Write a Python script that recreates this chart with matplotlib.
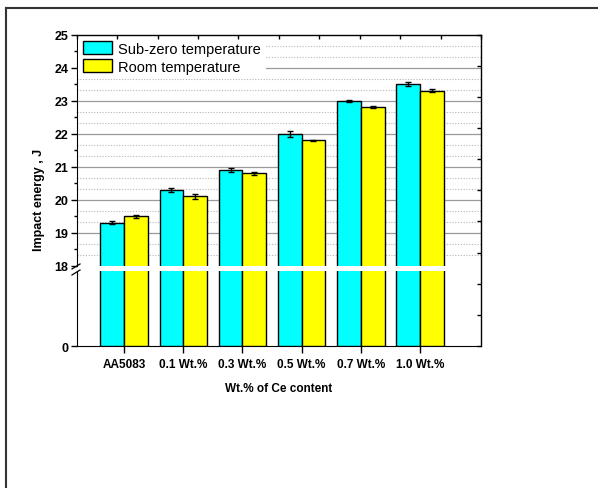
import numpy as np
import matplotlib
matplotlib.use('Agg')
import matplotlib.pyplot as plt
from matplotlib.lines import Line2D
from matplotlib.ticker import MultipleLocator

plt.rcParams['font.family'] = ['Liberation Sans', 'DejaVu Sans']

categories = ['AA5083', '0.1 Wt.%', '0.3 Wt.%', '0.5 Wt.%', '0.7 Wt.%', '1.0 Wt.%']
sub_zero = [19.3, 20.3, 20.9, 22.0, 23.0, 23.5]
sub_zero_err = [0.05, 0.06, 0.07, 0.09, 0.03, 0.06]
room = [19.5, 20.1, 20.8, 21.8, 22.8, 23.3]
room_err = [0.04, 0.08, 0.04, 0.02, 0.03, 0.04]

W, H = 598, 489
fig = plt.figure(figsize=(W/100, H/100), dpi=100)

# pixel layout of the broken axis
x0, x1 = 76.7, 481
top_y0, top_y1 = 35.7, 266.7
low_y0, low_y1 = 271.7, 347

def box(ya, yb):
    return [x0/W, 1-yb/H, (x1-x0)/W, (yb-ya)/H]

ax_top = fig.add_axes(box(top_y0, top_y1))
ax_low = fig.add_axes(box(low_y0, low_y1))
ax_frm = fig.add_axes(box(top_y0, low_y1))

x = np.arange(len(categories))
bw = 0.4
handles = []
for ax in (ax_top, ax_low):
    b1 = ax.bar(x-bw/2, sub_zero, bw, color='#00FFFF', edgecolor='black', linewidth=1, zorder=3)
    b2 = ax.bar(x+bw/2, room, bw, color='#FFFF00', edgecolor='black', linewidth=1, zorder=3)
    handles.append((b1, b2))
    ax.set_xlim(-0.8, 6.03)
    ax.spines['right'].set_visible(False)
    ax.set_axisbelow(True)

ax_top.errorbar(x-bw/2, sub_zero, yerr=sub_zero_err, fmt='none', ecolor='black',
                elinewidth=1, capsize=2.5, capthick=1, zorder=4)
ax_top.errorbar(x+bw/2, room, yerr=room_err, fmt='none', ecolor='black',
                elinewidth=1, capsize=2.5, capthick=1, zorder=4)

# upper part
ax_top.set_ylim(18, 25)
ax_top.spines['top'].set_visible(False)
ax_top.spines['bottom'].set_visible(False)
ax_top.set_xticks([])
ax_top.yaxis.set_major_locator(MultipleLocator(1))
ax_top.yaxis.set_minor_locator(MultipleLocator(0.5))
ax_top.tick_params(axis='y', which='major', direction='out', length=4, width=1, labelsize=9, pad=2)
ax_top.tick_params(axis='y', which='minor', direction='out', length=2, width=1)
for lab in ax_top.get_yticklabels():
    lab.set_fontweight('bold')
for v in range(19, 25):
    ax_top.axhline(v, color='#9a9a9a', linewidth=0.9, zorder=1)
for v in np.arange(18, 25):
    for f in (1/3, 2/3):
        ax_top.axhline(v+f, color='#b5b5b5', linewidth=0.8, linestyle=(0, (1, 1.5)), zorder=1)

leg = ax_top.legend(handles[0], ['Sub-zero temperature', 'Room temperature'], loc='upper left',
                    bbox_to_anchor=(0, 1), borderaxespad=0.1, fontsize=10.5,
                    frameon=True, fancybox=False, framealpha=1, edgecolor='none',
                    handlelength=2.0, handleheight=1.0, handletextpad=0.4,
                    labelspacing=0.25, borderpad=0.35)
leg.set_zorder(5)

# lower part
ax_low.set_ylim(0, 18)
ax_low.spines['top'].set_visible(False)
ax_low.set_yticks([0])
ax_low.tick_params(axis='y', direction='out', length=4, width=1, labelsize=9, pad=2)
ax_low.set_xticks(x)
ax_low.set_xticklabels(categories)
ax_low.tick_params(axis='x', direction='out', length=5, width=1, labelsize=8.5, pad=4)
for lab in ax_low.get_xticklabels() + ax_low.get_yticklabels():
    lab.set_fontweight('bold')
ax_low.set_xlabel('Wt.% of Ce content', fontsize=8.5, fontweight='bold', labelpad=8)

# frame with top and right ticks
ax_frm.patch.set_visible(False)
ax_frm.set_xlim(0, 10)
ax_frm.set_ylim(0, 10)
ax_frm.spines['left'].set_visible(False)
ax_frm.spines['bottom'].set_visible(False)
ax_frm.set_xticks(np.arange(0, 11))
ax_frm.set_yticks(np.arange(0, 11))
ax_frm.tick_params(left=False, bottom=False, labelleft=False, labelbottom=False,
                   top=True, right=True, direction='in', length=3, width=1)
for s in ax_frm.spines.values():
    s.set_linewidth(1)

fig.text(39/W, 1-200/H, 'Impact energy , J', rotation=90, ha='center', va='center',
         fontsize=9, fontweight='bold')

# break marks
for yb in (268, 274):
    fig.add_artist(Line2D([72/W, 80/W], [1-(yb+2)/H, 1-(yb-3)/H], color='black', linewidth=0.9))

# image border (top and left only)
fig.add_artist(Line2D([5.5/W, 1], [1-8.5/H, 1-8.5/H], color='#333333', linewidth=1.5))
fig.add_artist(Line2D([5.5/W, 5.5/W], [0, 1-8.5/H], color='#333333', linewidth=1.5))

fig.savefig('out.png', dpi=100)
